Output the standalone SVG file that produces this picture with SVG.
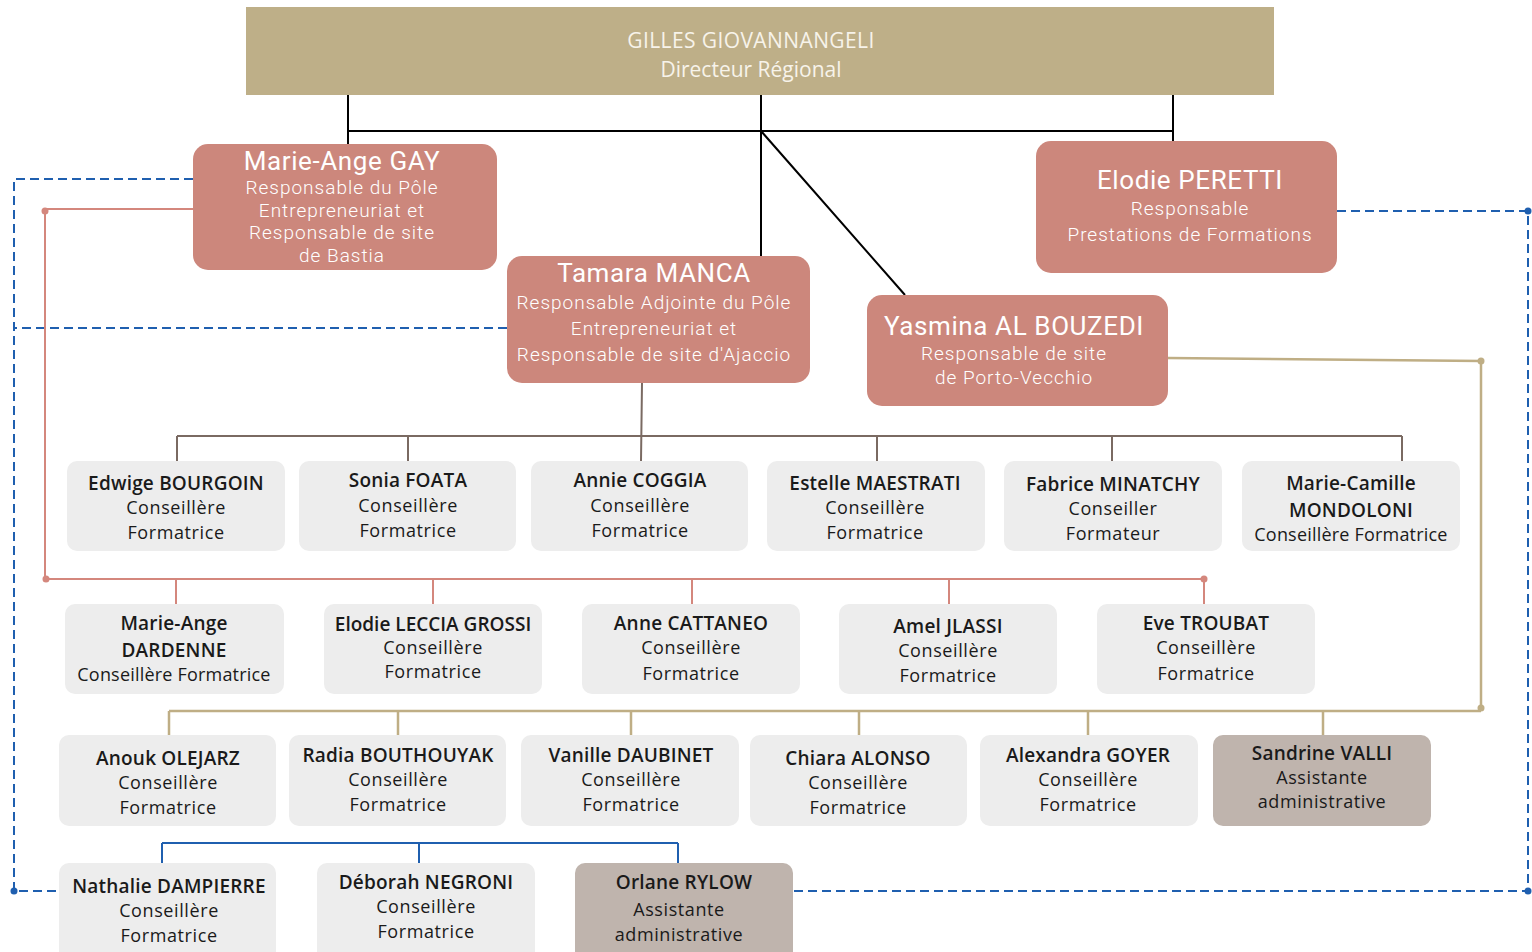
<svg xmlns="http://www.w3.org/2000/svg" width="1532" height="952" viewBox="0 0 1532 952">
<defs>
<style>
.top{fill:#BEAF88}
.mgr{fill:#CC877C}
.emp{fill:#EDEDED}
.adm{fill:#BFB4AD}
text{font-family:"Open Sans","Noto Sans","DejaVu Sans",sans-serif;text-anchor:middle}
.tt{fill:#F7F3EA;font-size:21px}
.mn{fill:#FFFFFF;font-family:Roboto,"Open Sans",sans-serif;font-size:26px;letter-spacing:0.6px}
.ms{fill:#FFFFFF;font-family:Roboto,"Open Sans",sans-serif;font-size:19px;font-weight:300;letter-spacing:1px}
.en{fill:#1A1A1A;font-size:19px;font-weight:600;letter-spacing:0.2px}
.es{fill:#1A1A1A;font-size:18px;letter-spacing:0.6px}
.blk{stroke:#000;stroke-width:2;fill:none}
.bdash{stroke:#1F5FAF;stroke-width:2;stroke-dasharray:9 5;fill:none}
.bsol{stroke:#1F5FAF;stroke-width:2;fill:none}
.pink{stroke:#D4877D;stroke-width:2;fill:none}
.brn{stroke:#7A6A62;stroke-width:2;fill:none}
.tan{stroke:#BFAE85;stroke-width:2.5;fill:none}
</style>
</defs>
<rect width="1532" height="952" fill="#FFFFFF"/>
<g id="connectors">
<path class="blk" d="M348 95V145M761 95V256M1173 95V141M348 131H1173M761 131L905 295"/>
<path class="bdash" d="M193 179H14V891H59M507 328H14"/>
<path class="bdash" d="M1337 211H1528V891H793"/>
<circle cx="14" cy="891" r="3.5" fill="#1F5FAF"/>
<circle cx="1528" cy="211" r="3.5" fill="#1F5FAF"/>
<circle cx="1528" cy="891" r="3.5" fill="#1F5FAF"/>
<path class="pink" d="M193 209H45V579H1204M176 579V604M433 579V604M692 579V604M949 579V604M1204 579V604"/>
<circle cx="45" cy="211" r="3.5" fill="#D4877D"/>
<circle cx="46" cy="579" r="3.5" fill="#D4877D"/>
<circle cx="1204" cy="579" r="3.5" fill="#D4877D"/>
<path class="brn" d="M642 383L641 461M177 436H1402M177 436V461M408 436V461M877 436V461M1112 436V461M1402 436V461"/>
<path class="tan" d="M1168 358L1481 361V708M169 711H1481M169 711V736M398 711V736M631 711V736M859 711V736M1088 711V736M1323 711V736"/>
<circle cx="1481" cy="361" r="3.5" fill="#BFAE85"/>
<circle cx="1481" cy="708" r="3.5" fill="#BFAE85"/>
<path class="bsol" d="M162 843H678M162 843V863M419 843V863M678 843V863"/>
</g>
<g id="n-gilles">
<rect class="top" x="246" y="7" width="1028" height="88"/>
<text class="tt" x="751" y="48" style="letter-spacing:0.4px">GILLES GIOVANNANGELI</text>
<text class="tt" x="751" y="77">Directeur Régional</text>
</g>
<g id="n-gay">
<rect class="mgr" x="193" y="144" width="304" height="126" rx="15"/>
<text class="mn" x="342" y="170">Marie-Ange GAY</text>
<text class="ms" x="342" y="194">Responsable du Pôle</text>
<text class="ms" x="342" y="216.7">Entrepreneuriat et</text>
<text class="ms" x="342" y="239.3">Responsable de site</text>
<text class="ms" x="342" y="262">de Bastia</text>
</g>
<g id="n-peretti">
<rect class="mgr" x="1036" y="141" width="301" height="132" rx="15"/>
<text class="mn" x="1190" y="189">Elodie PERETTI</text>
<text class="ms" x="1190" y="215">Responsable</text>
<text class="ms" x="1190" y="241">Prestations de Formations</text>
</g>
<g id="n-manca">
<rect class="mgr" x="507" y="256" width="303" height="127" rx="15"/>
<text class="mn" x="654" y="282">Tamara MANCA</text>
<text class="ms" x="654" y="309">Responsable Adjointe du Pôle</text>
<text class="ms" x="654" y="335">Entrepreneuriat et</text>
<text class="ms" x="654" y="361">Responsable de site d'Ajaccio</text>
</g>
<g id="n-albouzedi">
<rect class="mgr" x="867" y="295" width="301" height="111" rx="15"/>
<text class="mn" x="1014" y="335">Yasmina AL BOUZEDI</text>
<text class="ms" x="1014" y="360">Responsable de site</text>
<text class="ms" x="1014" y="384">de Porto-Vecchio</text>
</g>
<g id="n-bourgoin">
<rect class="emp" x="67" y="461" width="218" height="90" rx="10"/>
<text class="en" x="176" y="490">Edwige BOURGOIN</text>
<text class="es" x="176" y="514">Conseillère</text>
<text class="es" x="176" y="539">Formatrice</text>
</g>
<g id="n-foata">
<rect class="emp" x="299" y="461" width="217" height="90" rx="10"/>
<text class="en" x="408" y="487">Sonia FOATA</text>
<text class="es" x="408" y="512">Conseillère</text>
<text class="es" x="408" y="537">Formatrice</text>
</g>
<g id="n-coggia">
<rect class="emp" x="531" y="461" width="217" height="90" rx="10"/>
<text class="en" x="640" y="487">Annie COGGIA</text>
<text class="es" x="640" y="512">Conseillère</text>
<text class="es" x="640" y="537">Formatrice</text>
</g>
<g id="n-maestrati">
<rect class="emp" x="767" y="461" width="218" height="90" rx="10"/>
<text class="en" x="875" y="490">Estelle MAESTRATI</text>
<text class="es" x="875" y="514">Conseillère</text>
<text class="es" x="875" y="539">Formatrice</text>
</g>
<g id="n-minatchy">
<rect class="emp" x="1004" y="461" width="218" height="90" rx="10"/>
<text class="en" x="1113" y="491">Fabrice MINATCHY</text>
<text class="es" x="1113" y="515">Conseiller</text>
<text class="es" x="1113" y="540">Formateur</text>
</g>
<g id="n-mondoloni">
<rect class="emp" x="1242" y="461" width="218" height="90" rx="10"/>
<text class="en" x="1351" y="490">Marie-Camille</text>
<text class="en" x="1351" y="517">MONDOLONI</text>
<text class="es" x="1351" y="541" style="letter-spacing:0.2px">Conseillère Formatrice</text>
</g>
<g id="n-dardenne">
<rect class="emp" x="65" y="604" width="219" height="90" rx="10"/>
<text class="en" x="174" y="630">Marie-Ange</text>
<text class="en" x="174" y="657">DARDENNE</text>
<text class="es" x="174" y="681" style="letter-spacing:0.2px">Conseillère Formatrice</text>
</g>
<g id="n-leccia">
<rect class="emp" x="324" y="604" width="218" height="90" rx="10"/>
<text class="en" x="433" y="631" style="letter-spacing:0">Elodie LECCIA GROSSI</text>
<text class="es" x="433" y="654">Conseillère</text>
<text class="es" x="433" y="678">Formatrice</text>
</g>
<g id="n-cattaneo">
<rect class="emp" x="582" y="604" width="218" height="90" rx="10"/>
<text class="en" x="691" y="630">Anne CATTANEO</text>
<text class="es" x="691" y="654">Conseillère</text>
<text class="es" x="691" y="680">Formatrice</text>
</g>
<g id="n-jlassi">
<rect class="emp" x="839" y="604" width="218" height="90" rx="10"/>
<text class="en" x="948" y="633">Amel JLASSI</text>
<text class="es" x="948" y="657">Conseillère</text>
<text class="es" x="948" y="682">Formatrice</text>
</g>
<g id="n-troubat">
<rect class="emp" x="1097" y="604" width="218" height="90" rx="10"/>
<text class="en" x="1206" y="630">Eve TROUBAT</text>
<text class="es" x="1206" y="654">Conseillère</text>
<text class="es" x="1206" y="680">Formatrice</text>
</g>
<g id="n-olejarz">
<rect class="emp" x="59" y="735" width="217" height="91" rx="10"/>
<text class="en" x="168" y="765">Anouk OLEJARZ</text>
<text class="es" x="168" y="789">Conseillère</text>
<text class="es" x="168" y="814">Formatrice</text>
</g>
<g id="n-bouthouyak">
<rect class="emp" x="289" y="735" width="217" height="91" rx="10"/>
<text class="en" x="398" y="762">Radia BOUTHOUYAK</text>
<text class="es" x="398" y="786">Conseillère</text>
<text class="es" x="398" y="811">Formatrice</text>
</g>
<g id="n-daubinet">
<rect class="emp" x="521" y="735" width="218" height="91" rx="10"/>
<text class="en" x="631" y="762">Vanille DAUBINET</text>
<text class="es" x="631" y="786">Conseillère</text>
<text class="es" x="631" y="811">Formatrice</text>
</g>
<g id="n-alonso">
<rect class="emp" x="750" y="735" width="217" height="91" rx="10"/>
<text class="en" x="858" y="765">Chiara ALONSO</text>
<text class="es" x="858" y="789">Conseillère</text>
<text class="es" x="858" y="814">Formatrice</text>
</g>
<g id="n-goyer">
<rect class="emp" x="980" y="735" width="218" height="91" rx="10"/>
<text class="en" x="1088" y="762">Alexandra GOYER</text>
<text class="es" x="1088" y="786">Conseillère</text>
<text class="es" x="1088" y="811">Formatrice</text>
</g>
<g id="n-valli">
<rect class="adm" x="1213" y="735" width="218" height="91" rx="10"/>
<text class="en" x="1322" y="760">Sandrine VALLI</text>
<text class="es" x="1322" y="784">Assistante</text>
<text class="es" x="1322" y="808">administrative</text>
</g>
<g id="n-dampierre">
<rect class="emp" x="59" y="863" width="217" height="100" rx="10"/>
<text class="en" x="169" y="893">Nathalie DAMPIERRE</text>
<text class="es" x="169" y="917">Conseillère</text>
<text class="es" x="169" y="942">Formatrice</text>
</g>
<g id="n-negroni">
<rect class="emp" x="317" y="863" width="218" height="100" rx="10"/>
<text class="en" x="426" y="889">Déborah NEGRONI</text>
<text class="es" x="426" y="913">Conseillère</text>
<text class="es" x="426" y="938">Formatrice</text>
</g>
<g id="n-rylow">
<rect class="adm" x="575" y="863" width="218" height="100" rx="10"/>
<text class="en" x="684" y="889">Orlane RYLOW</text>
<text class="es" x="679" y="916">Assistante</text>
<text class="es" x="679" y="941">administrative</text>
</g>
</svg>
